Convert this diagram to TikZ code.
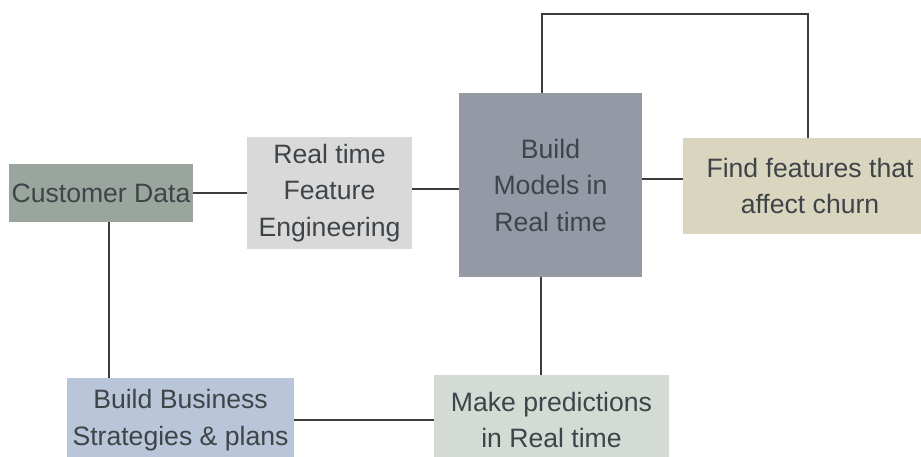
\documentclass[tikz,border=0pt]{standalone}
\usepackage{fontspec}
\setmainfont{Liberation Sans}
\definecolor{linegray}{HTML}{3C3C3C}
\definecolor{txtgray}{HTML}{3E4448}
\definecolor{cdfill}{HTML}{9AA59E}
\definecolor{fefill}{HTML}{D9D9D9}
\definecolor{bmfill}{HTML}{9599A6}
\definecolor{fffill}{HTML}{D9D5BF}
\definecolor{bbfill}{HTML}{B9C5D8}
\definecolor{mpfill}{HTML}{D3DBD4}
\begin{document}
\begin{tikzpicture}[x=1pt,y=-1pt,
  box/.style={rectangle, inner sep=0pt, align=center, text=txtgray,
    font=\fontsize{26.6}{36.5}\selectfont},
  link/.style={draw=linegray, line width=2pt}]
\useasboundingbox (0,0) rectangle (921,456);
\clip (0,0) rectangle (921,456);
\fill[white] (0,0) rectangle (921,456);

% process boxes
\node[box, fill=cdfill, minimum width=184pt, minimum height=58pt] (cd) at (101,193) {Customer Data};
\node[box, fill=fefill, minimum width=165pt, minimum height=112pt] (fe) at (329.5,193) {Real time\\Feature\\Engineering};
\node[box, fill=bmfill, minimum width=183pt, minimum height=184pt] (bm) at (550.5,185) {Build\\Models in\\Real time};
\node[box, fill=fffill, minimum width=254pt, minimum height=96pt] (ff) at (810,186) {Find features that\\affect churn};
\node[box, fill=bbfill, minimum width=227pt, minimum height=84pt] (bb) at (180.5,420) {Build Business\\Strategies \& plans};
\node[box, fill=mpfill, minimum width=235pt, minimum height=90pt] (mp) at (551.5,420) {Make predictions\\in Real time};

% loop above the model box
\coordinate (loopL) at ([xshift=-8.5pt]bm.north |- 0,14);
\coordinate (loopR) at ([xshift=-2pt]ff.north |- 0,14);

% connectors
\draw[link] (cd.east) -- (fe.west |- cd.east);
\draw[link] ([yshift=4pt]fe.east) -- ([yshift=4pt]fe.east -| bm.west);
\draw[link] ([yshift=6pt]bm.east) -- ([yshift=6pt]bm.east -| ff.west);
\draw[link] ([xshift=-8.5pt]bm.north) -- (loopL) -- (loopR) -- ([xshift=-2pt]ff.north);
\draw[link] ([xshift=-9.5pt]bm.south) -- ([xshift=-9.5pt]bm.south |- mp.north);
\draw[link] ([xshift=8pt]cd.south) -- ([xshift=8pt]cd.south |- bb.north);
\draw[link] (bb.east) -- (mp.west |- bb.east);
\end{tikzpicture}
\end{document}
